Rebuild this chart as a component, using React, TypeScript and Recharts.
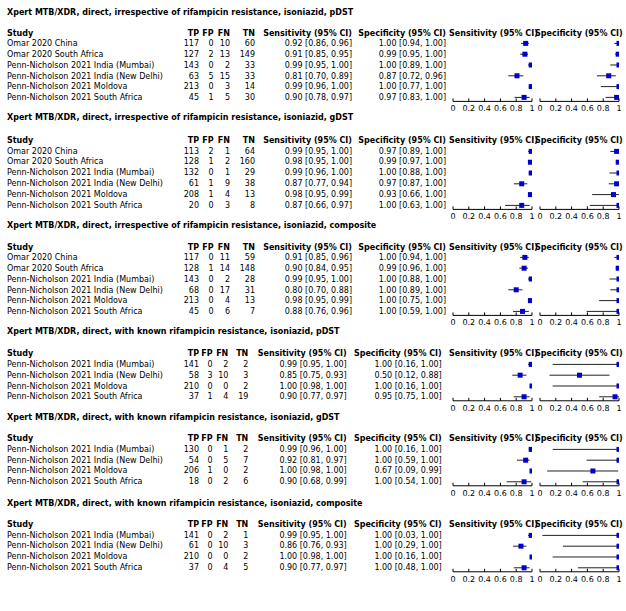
import React from 'react';
import { ScatterChart, Scatter, XAxis, YAxis, ErrorBar } from 'recharts';

const FONT = '"DejaVu Sans", Verdana, sans-serif';

const titles = [
  'Xpert MTB/XDR, direct, irrespective of rifampicin resistance, isoniazid, pDST',
  'Xpert MTB/XDR, direct, irrespective of rifampicin resistance, isoniazid, gDST',
  'Xpert MTB/XDR, direct, irrespective of rifampicin resistance, isoniazid, composite',
  'Xpert MTB/XDR, direct, with known rifampicin resistance, isoniazid, pDST',
  'Xpert MTB/XDR, direct, with known rifampicin resistance, isoniazid, gDST',
  'Xpert MTB/XDR, direct, with known rifampicin resistance, isoniazid, composite',
];

const studiesAll = [
  'Omar 2020 China',
  'Omar 2020 South Africa',
  'Penn-Nicholson 2021 India (Mumbai)',
  'Penn-Nicholson 2021 India (New Delhi)',
  'Penn-Nicholson 2021 Moldova',
  'Penn-Nicholson 2021 South Africa',
];
const studiesRif = [
  'Penn-Nicholson 2021 India (Mumbai)',
  'Penn-Nicholson 2021 India (New Delhi)',
  'Penn-Nicholson 2021 Moldova',
  'Penn-Nicholson 2021 South Africa',
];

// [TP, FP, FN, TN]
const countsIrrP = [[117, 0, 10, 60], [127, 2, 13, 149], [143, 0, 2, 33], [63, 5, 15, 33], [213, 0, 3, 14], [45, 1, 5, 30]];
const countsIrrG = [[113, 2, 1, 64], [128, 1, 2, 160], [132, 0, 1, 29], [61, 1, 9, 38], [208, 1, 4, 13], [20, 0, 3, 8]];
const countsIrrC = [[117, 0, 11, 59], [128, 1, 14, 148], [143, 0, 2, 28], [68, 0, 17, 31], [213, 0, 4, 13], [45, 0, 6, 7]];
const countsRifP = [[141, 0, 2, 2], [58, 3, 10, 3], [210, 0, 0, 2], [37, 1, 4, 19]];
const countsRifG = [[130, 0, 1, 2], [54, 0, 5, 7], [206, 1, 0, 2], [18, 0, 2, 6]];
const countsRifC = [[141, 0, 2, 1], [61, 0, 10, 3], [210, 0, 0, 2], [37, 0, 4, 5]];

// [estimate, lower, upper]
const sensIrrP = [[0.92, 0.86, 0.96], [0.91, 0.85, 0.95], [0.99, 0.95, 1.0], [0.81, 0.7, 0.89], [0.99, 0.96, 1.0], [0.9, 0.78, 0.97]];
const specIrrP = [[1.0, 0.94, 1.0], [0.99, 0.95, 1.0], [1.0, 0.89, 1.0], [0.87, 0.72, 0.96], [1.0, 0.77, 1.0], [0.97, 0.83, 1.0]];
const sensIrrG = [[0.99, 0.95, 1.0], [0.98, 0.95, 1.0], [0.99, 0.96, 1.0], [0.87, 0.77, 0.94], [0.98, 0.95, 0.99], [0.87, 0.66, 0.97]];
const specIrrG = [[0.97, 0.89, 1.0], [0.99, 0.97, 1.0], [1.0, 0.88, 1.0], [0.97, 0.87, 1.0], [0.93, 0.66, 1.0], [1.0, 0.63, 1.0]];
const sensIrrC = [[0.91, 0.85, 0.96], [0.9, 0.84, 0.95], [0.99, 0.95, 1.0], [0.8, 0.7, 0.88], [0.98, 0.95, 0.99], [0.88, 0.76, 0.96]];
const specIrrC = [[1.0, 0.94, 1.0], [0.99, 0.96, 1.0], [1.0, 0.88, 1.0], [1.0, 0.89, 1.0], [1.0, 0.75, 1.0], [1.0, 0.59, 1.0]];
const sensRifP = [[0.99, 0.95, 1.0], [0.85, 0.75, 0.93], [1.0, 0.98, 1.0], [0.9, 0.77, 0.97]];
const specRifP = [[1.0, 0.16, 1.0], [0.5, 0.12, 0.88], [1.0, 0.16, 1.0], [0.95, 0.75, 1.0]];
const sensRifG = [[0.99, 0.96, 1.0], [0.92, 0.81, 0.97], [1.0, 0.98, 1.0], [0.9, 0.68, 0.99]];
const specRifG = [[1.0, 0.16, 1.0], [1.0, 0.59, 1.0], [0.67, 0.09, 0.99], [1.0, 0.54, 1.0]];
const sensRifC = [[0.99, 0.95, 1.0], [0.86, 0.76, 0.93], [1.0, 0.98, 1.0], [0.9, 0.77, 0.97]];
const specRifC = [[1.0, 0.03, 1.0], [1.0, 0.29, 1.0], [1.0, 0.16, 1.0], [1.0, 0.48, 1.0]];

const axisTicks = [0, 0.2, 0.4, 0.6, 0.8, 1];

const sections = [
  { title: titles[0], studies: studiesAll, counts: countsIrrP, sens: sensIrrP, spec: specIrrP },
  { title: titles[1], studies: studiesAll, counts: countsIrrG, sens: sensIrrG, spec: specIrrG },
  { title: titles[2], studies: studiesAll, counts: countsIrrC, sens: sensIrrC, spec: specIrrC },
  { title: titles[3], studies: studiesRif, counts: countsRifP, sens: sensRifP, spec: specRifP },
  { title: titles[4], studies: studiesRif, counts: countsRifG, sens: sensRifG, spec: specRifG },
  { title: titles[5], studies: studiesRif, counts: countsRifC, sens: sensRifC, spec: specRifC },
];

// layout
const ROW_H = 10.8;
const TITLE_Y = [12.7, 117.7, 225, 331.7, 417.7, 503.3];
const ROW1_Y = [43.7, 151, 257.7, 364.5, 449.3, 535];
const COLS6 = { tp: 199, fp: 213.5, fn: 230, tn: 255, sens: 352, spec: 446 };
const COLS4 = { tp: 199, fp: 212.5, fn: 228.3, tn: 248.3, sens: 346.7, spec: 441.7 };
const SENS_PLOT_X = 453;
const SPEC_PLOT_X = 540;
const PLOT_W = 79;

const fmt = (v: number[]) => `${v[0].toFixed(2)} [${v[1].toFixed(2)}, ${v[2].toFixed(2)}]`;

const Txt = ({ x, y, bold, right, children }: any) => (
  <div
    style={{
      position: 'absolute',
      left: right ? x - 300 : x,
      width: right ? 300 : undefined,
      top: y - 5.5,
      lineHeight: '11px',
      fontSize: 8,
      fontWeight: bold ? 'bold' : 'normal',
      textAlign: right ? 'right' : 'left',
      whiteSpace: 'nowrap',
    }}
  >
    {children}
  </div>
);

const Square = (p: any) => (
  <rect x={p.cx - 2.5} y={p.cy - 2.5} width={5} height={5} fill="#0000cc" />
);

const AxisTick = (p: any) => (
  <g>
    <line x1={p.x} x2={p.x} y1={p.y - 3} y2={p.y} stroke="#000" />
    <text x={p.x} y={p.y + 10} textAnchor="middle" fontSize={8} fontFamily={FONT} fill="#000">
      {String(p.payload.value)}
    </text>
  </g>
);

const Forest = ({ vals, plotX, top }: { vals: number[][]; plotX: number; top: number }) => {
  const n = vals.length;
  const rows = vals.map(([est, lo, hi], i) => ({ y: i, x: est, err: [est - lo, hi - est] }));
  const plotH = (n - 0.13) * ROW_H;
  return (
    <div style={{ position: 'absolute', left: plotX - 5, top }}>
      <ScatterChart width={PLOT_W + 10} height={plotH + 16} margin={{ top: 0, right: 5, bottom: 0, left: 5 }}>
        <XAxis
          type="number"
          dataKey="x"
          domain={[0, 1]}
          ticks={axisTicks}
          interval={0}
          allowDataOverflow
          height={16}
          tickSize={0}
          tickMargin={0}
          tickLine={false}
          axisLine={{ stroke: '#000' }}
          tick={AxisTick}
        />
        <YAxis type="number" dataKey="y" domain={[-0.5, n - 0.63]} reversed hide allowDataOverflow />
        <Scatter data={rows} shape={Square} isAnimationActive={false}>
          <ErrorBar dataKey="err" direction="x" width={0} stroke="#222" strokeWidth={1} isAnimationActive={false} />
        </Scatter>
      </ScatterChart>
    </div>
  );
};

export default function App() {
  return (
    <div
      style={{
        position: 'absolute',
        left: 0,
        top: 0,
        width: 626,
        height: 611,
        background: '#fff',
        color: '#000',
        fontFamily: FONT,
        overflow: 'hidden',
      }}
    >
      {sections.map((s, k) => {
        const cols = s.studies.length === 6 ? COLS6 : COLS4;
        const r1 = ROW1_Y[k];
        const hy = r1 - 10.7;
        return (
          <React.Fragment key={k}>
            <Txt x={7} y={TITLE_Y[k]} bold>{s.title}</Txt>
            <Txt x={7} y={hy} bold>Study</Txt>
            <Txt x={cols.tp} y={hy} bold right>TP</Txt>
            <Txt x={cols.fp} y={hy} bold right>FP</Txt>
            <Txt x={cols.fn} y={hy} bold right>FN</Txt>
            <Txt x={cols.tn} y={hy} bold right>TN</Txt>
            <Txt x={cols.sens} y={hy} bold right>Sensitivity (95% CI)</Txt>
            <Txt x={cols.spec} y={hy} bold right>Specificity (95% CI)</Txt>
            <Txt x={449} y={hy} bold>Sensitivity (95% CI)</Txt>
            <Txt x={535} y={hy} bold>Specificity (95% CI)</Txt>
            {s.studies.map((name, i) => {
              const y = r1 + i * ROW_H;
              const c = s.counts[i];
              return (
                <React.Fragment key={i}>
                  <Txt x={7} y={y}>{name}</Txt>
                  <Txt x={cols.tp} y={y} right>{c[0]}</Txt>
                  <Txt x={cols.fp} y={y} right>{c[1]}</Txt>
                  <Txt x={cols.fn} y={y} right>{c[2]}</Txt>
                  <Txt x={cols.tn} y={y} right>{c[3]}</Txt>
                  <Txt x={cols.sens} y={y} right>{fmt(s.sens[i])}</Txt>
                  <Txt x={cols.spec} y={y} right>{fmt(s.spec[i])}</Txt>
                </React.Fragment>
              );
            })}
            <Forest vals={s.sens} plotX={SENS_PLOT_X} top={r1 - ROW_H / 2} />
            <Forest vals={s.spec} plotX={SPEC_PLOT_X} top={r1 - ROW_H / 2} />
          </React.Fragment>
        );
      })}
    </div>
  );
}
